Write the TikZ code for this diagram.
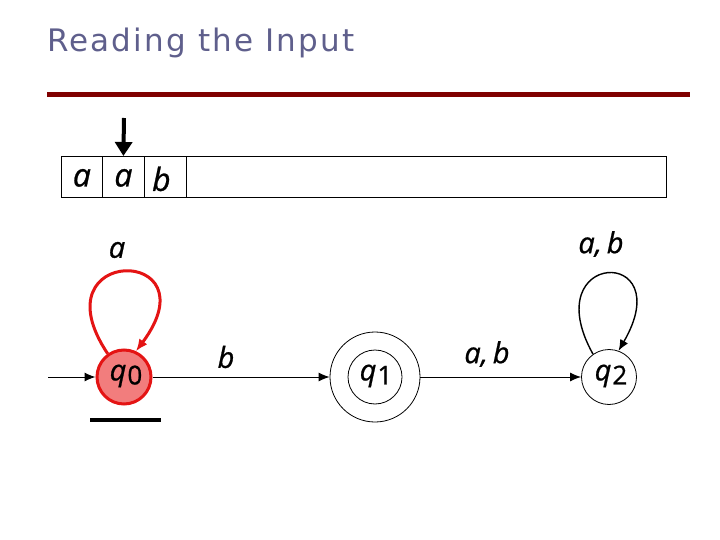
\documentclass[tikz,border=0pt]{standalone}
\usepackage{fontspec}
\setmainfont{Open Sans}
\newfontfamily\comic[FakeBold=0.8]{Open Sans}
\newfontfamily\titlefont[LetterSpace=7]{DejaVu Sans}
\usetikzlibrary{arrows.meta}
\definecolor{titleblue}{RGB}{95,95,140}
\definecolor{barred}{RGB}{128,0,0}
\definecolor{stred}{RGB}{228,20,20}
\definecolor{stfill}{RGB}{242,125,125}
\tikzset{
  lbl/.style={font=\fontsize{29}{29}\comic\itshape, inner sep=0pt},
  tapelbl/.style={font=\fontsize{32}{32}\comic\itshape, inner sep=0pt},
  cell/.style={draw, line width=0.8pt, minimum height=41pt, inner sep=0pt, anchor=north west},
  state/.style={circle, draw, line width=0.8pt, inner sep=0pt},
  edge/.style={line width=1pt, -{Latex[length=11pt,width=9pt]}},
}
\newcommand{\stname}[2]{{\itshape #1}\kern1pt\raisebox{-4pt}{\fontsize{26}{26}\selectfont\upshape #2}}
\begin{document}
\begin{tikzpicture}[x=1pt,y=-1pt]
\useasboundingbox (0,0) rectangle (720,540);
% title
\node[anchor=base west, inner sep=0pt, text=titleblue, font=\fontsize{31}{31}\titlefont] (title) at (47,52) {Reading the Input};
\coordinate (barL) at (47,95);
\coordinate (barR) at (690,95);
\draw[barred, line width=5pt] (barL) -- (barR);
% tape
\node[cell, minimum width=41pt] (c1) at (61,156) {};
\node[cell, minimum width=42pt] (c2) at (102,156) {};
\node[cell, minimum width=42pt] (c3) at (144,156) {};
\node[cell, minimum width=480pt] (c4) at (186,156) {};
\node[tapelbl] at ([yshift=-1pt]c1.center) {a};
\node[tapelbl] at ([yshift=-1pt]c2.center) {a};
\node[tapelbl] at ([yshift=-2pt,xshift=-4pt]c3.center) {b};
\coordinate (headtop) at (124,118);
\draw[line width=4pt, -{Triangle[length=14pt,width=17pt]}] (headtop) -- (c2.north);
% states
\node[state, fill=stfill, draw=stred, line width=3pt, minimum size=54pt] (q0) at (124,377) {};
\node[lbl] at ([xshift=2pt,yshift=1pt]q0.center) {\stname{q}{0}};
\node[state, minimum size=90pt] (q1) at (375,377) {};
\node[state, minimum size=54pt] (q1in) at (375,377) {};
\node[lbl] at ([xshift=1pt,yshift=1pt]q1.center) {\stname{q}{1}};
\node[state, minimum size=55pt] (q2) at (609,377) {};
\node[lbl] at ([xshift=2pt,yshift=1pt]q2.center) {\stname{q}{2}};
% marker under q0
\coordinate (mkL) at (90,420);
\coordinate (mkR) at (161,420);
\draw[line width=4.5pt] (mkL) -- (mkR);
% edges
\coordinate (start) at (48,377);
\draw[edge] (start) -- (q0.west);
\draw[edge] (q0.east) -- (q1.west);
\draw[edge] (q1.east) -- (q2.west);
\node[lbl] at (226,357) {b};
\node[lbl] at (487,354) {a,\,b};
% loops
\draw[stred, line width=3pt, -{Latex[length=12pt,width=10pt]}] (q0.125) .. controls (35,245) and (215,245) .. (q0.65);
\node[lbl] at (117,250) {a};
\draw[line width=1.4pt, -{Latex[length=11pt,width=9pt]}] (q2.125) .. controls (535,250) and (680,245) .. (q2.70);
\node[lbl] at (601,244) {a,\,b};
\end{tikzpicture}
\end{document}
